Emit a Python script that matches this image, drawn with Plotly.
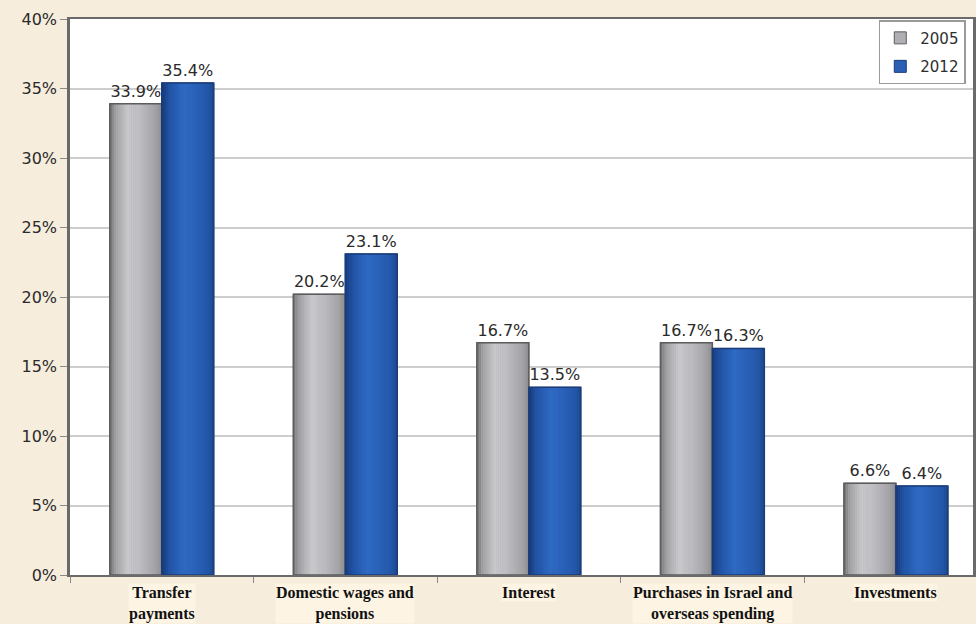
import plotly.graph_objects as go

# Share of government expenditure by use, 2005 vs 2012
categories = [
    "Transfer<br>payments",
    "Domestic wages and<br>pensions",
    "Interest",
    "Purchases in Israel and<br>overseas spending",
    "Investments",
]
values_2005 = [33.9, 20.2, 16.7, 16.7, 6.6]
values_2012 = [35.4, 23.1, 13.5, 16.3, 6.4]
y_ticks = [0, 5, 10, 15, 20, 25, 30, 35, 40]

x = list(range(len(categories)))
BAR_W = 0.283
STRIPS = 24
num_font = dict(family="DejaVu Sans, Arial, sans-serif", size=16, color="#2a2a2a")


def shade_ramp(stops, n):
    """Spread colour stops (position 0..1, '#rrggbb') over n strips."""
    out = []
    for i in range(n):
        t = (i + 0.5) / n
        for (p0, c0), (p1, c1) in zip(stops, stops[1:]):
            if p0 <= t <= p1:
                f = (t - p0) / (p1 - p0)
                a = [int(c0[k:k + 2], 16) for k in (1, 3, 5)]
                b = [int(c1[k:k + 2], 16) for k in (1, 3, 5)]
                out.append("#%02x%02x%02x" % tuple(round(u + (v - u) * f) for u, v in zip(a, b)))
                break
    return out


# Left-to-right shading for a rounded, cylinder-like bar face
gray_shades = shade_ramp([(0, "#727275"), (0.12, "#a2a2a5"), (0.35, "#c9c9cd"),
                          (0.6, "#bcbcc0"), (0.88, "#a2a2a6"), (1, "#88888b")], STRIPS)
blue_shades = shade_ramp([(0, "#163877"), (0.15, "#2152a4"), (0.42, "#2f6bc4"),
                          (0.7, "#2960b6"), (0.9, "#2355a6"), (1, "#1c4689")], STRIPS)

series = [
    ("2005", values_2005, -BAR_W, "#b0b0b4", "#5c5c5e", gray_shades),
    ("2012", values_2012, 0.0, "#2a60b4", "#1a3d7a", blue_shades),
]

fig = go.Figure()
for name, vals, off, mid, edge, shades in series:
    # base bar: carries legend entry and value labels
    fig.add_bar(
        x=x, y=vals, name=name, legendgroup=name, offset=off, width=BAR_W,
        marker=dict(color=mid, line=dict(color=edge, width=1)),
        text=[f"{v:.1f}%" for v in vals], textposition="outside",
        textfont=num_font, cliponaxis=False, hoverinfo="skip",
    )
for name, vals, off, mid, edge, shades in series:
    for k, col in enumerate(shades):
        fig.add_bar(
            x=x, y=vals, offset=off + k * BAR_W / STRIPS, width=BAR_W / STRIPS,
            marker=dict(color=col, line=dict(width=0)),
            showlegend=False, hoverinfo="skip",
        )
    # outline on top
    fig.add_bar(
        x=x, y=vals, offset=off, width=BAR_W,
        marker=dict(color="rgba(0,0,0,0)", line=dict(color=edge, width=1.5)),
        showlegend=False, hoverinfo="skip",
    )

# Category labels below the axis
for i, c in enumerate(categories):
    fig.add_annotation(
        x=i, y=0, xref="x", yref="y", yanchor="top", yshift=-8,
        text=f"<b>{c}</b>", showarrow=False, align="center",
        font=dict(family="Liberation Serif, Times New Roman, serif", size=16, color="#111111"),
        bgcolor="#fdf4e4", borderpad=0,
    )

fig.update_layout(
    width=976, height=624,
    margin=dict(l=70, r=0, t=19, b=49),
    paper_bgcolor="#f7eddd",
    plot_bgcolor="#ffffff",
    barmode="overlay",
    showlegend=True,
    legend=dict(
        x=0.992, y=0.998, xanchor="right", yanchor="top",
        bgcolor="#ffffff", bordercolor="#9a9a9a", borderwidth=1.5,
        font=dict(family="DejaVu Sans, Arial, sans-serif", size=15, color="#2e2e2e"),
        itemwidth=30, tracegroupgap=6,
    ),
    xaxis=dict(
        range=[-0.5, 4.42], showticklabels=False,
        tickvals=[k + 0.5 for k in range(-1, 5)], ticks="outside", ticklen=6,
        tickcolor="#8a8a8a", showgrid=False, zeroline=False,
        showline=True, linecolor="#6a6a6a", linewidth=2, mirror=True,
    ),
    yaxis=dict(
        range=[0, 40], tickvals=y_ticks, ticktext=[f"{t}%" for t in y_ticks],
        ticks="outside", ticklen=7, tickcolor="#8a8a8a",
        tickfont=num_font,
        showgrid=True, gridcolor="#cdcdcd", gridwidth=1.5, zeroline=False,
        showline=True, linecolor="#6a6a6a", linewidth=2.5, mirror=True,
    ),
)

fig.write_html("out.html")
